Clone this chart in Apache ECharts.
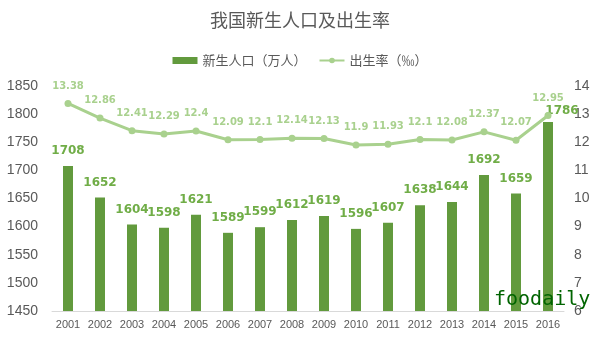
<!DOCTYPE html>
<html><head><meta charset="utf-8">
<script src="https://cdn.jsdelivr.net/npm/echarts@6/dist/echarts.min.js"></script>
<style>html,body{margin:0;padding:0;background:#fff}#c{width:600px;height:338px}</style>
</head><body><div id="c"></div>
<script>
const years = ['2001','2002','2003','2004','2005','2006','2007','2008','2009','2010','2011','2012','2013','2014','2015','2016'];
const births = [1708,1652,1604,1598,1621,1589,1599,1612,1619,1596,1607,1638,1644,1692,1659,1786];
const rates = [13.38,12.86,12.41,12.29,12.4,12.09,12.1,12.14,12.13,11.9,11.93,12.1,12.08,12.37,12.07,12.95];
const leftTicks = [1450,1850,50];
const rightTicks = [6,14,1];

const chart = echarts.init(document.getElementById('c'));
const fontCN = '"Microsoft YaHei","Noto Sans CJK SC",sans-serif';
const barData = births.map((v,i)=> i===births.length-1 ? {value:v,label:{offset:[14,4]}} : v);
chart.setOption({
  animation:false,
  title:{text:'我国新生人口及出生率',left:'center',top:6,textStyle:{fontFamily:fontCN,fontSize:18,fontWeight:'normal',color:'#595959'}},
  legend:{top:49,left:'center',itemGap:12,textStyle:{fontFamily:fontCN,fontSize:13,color:'#595959'},
    data:[{name:'新生人口（万人）',icon:'rect',itemStyle:{color:'#629A3D'}},{name:'出生率（‰）'}],
    itemWidth:25,itemHeight:7},
  grid:{left:52,right:36,top:86,bottom:27},
  xAxis:{type:'category',data:years,axisTick:{show:false},axisLine:{lineStyle:{color:'#D9D9D9'}},
    axisLabel:{color:'#595959',fontSize:11,fontFamily:'"Liberation Sans",sans-serif',margin:8}},
  yAxis:[
    {type:'value',min:leftTicks[0],max:leftTicks[1],interval:leftTicks[2],splitLine:{show:false},
     axisLabel:{color:'#595959',fontSize:14,fontFamily:'"Liberation Sans",sans-serif',margin:14,formatter:v=>String(v)}},
    {type:'value',min:rightTicks[0],max:rightTicks[1],interval:rightTicks[2],splitLine:{show:false},
     axisLabel:{color:'#595959',fontSize:14,fontFamily:'"Liberation Sans",sans-serif',margin:10,formatter:v=>String(v)}}
  ],
  series:[
    {name:'新生人口（万人）',type:'bar',data:barData,barWidth:10,itemStyle:{color:'#629A3D'},
     label:{show:true,position:'top',distance:9,color:'#70AD47',fontWeight:'bold',fontSize:12,fontFamily:'"DejaVu Sans",sans-serif'}},
    {name:'出生率（‰）',type:'line',yAxisIndex:1,data:rates,symbol:'circle',symbolSize:7,
     lineStyle:{color:'#A9D18E',width:3},itemStyle:{color:'#A9D18E'},
     label:{show:true,position:'top',distance:9,color:'#A9D18E',fontWeight:'bold',fontSize:10,fontFamily:'"DejaVu Sans",sans-serif'}}
  ],
  graphic:[{type:'text',left:494,top:290,z:100,zlevel:1,style:{text:'foodaily',fill:'#006400',font:'20px "DejaVu Sans Mono",monospace'}}]
});
</script></body></html>
